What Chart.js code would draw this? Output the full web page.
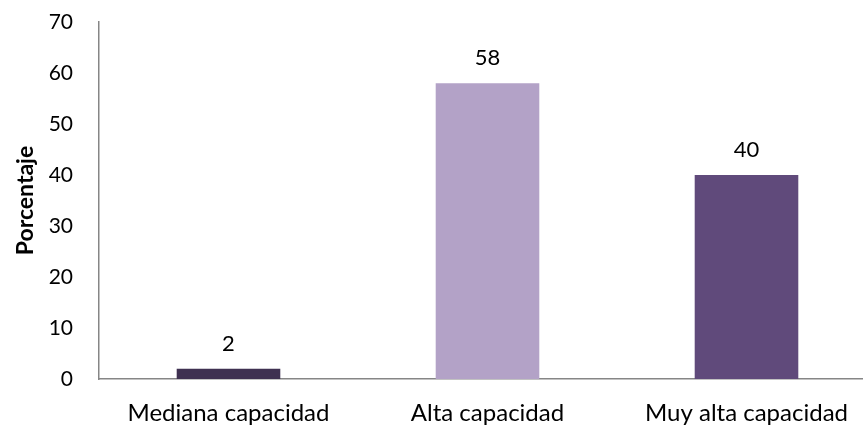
<!DOCTYPE html>
<html><head><meta charset="utf-8">
<script src="https://cdn.jsdelivr.net/npm/chart.js@4"></script>
<style>html,body{margin:0;padding:0;overflow:hidden;background:#fff}#wrap{width:876px;height:430px;position:relative}</style>
</head><body><div id="wrap"><canvas id="c"></canvas></div>
<script>
const categories = ["Mediana capacidad", "Alta capacidad", "Muy alta capacidad"];
const values = [2, 58, 40];
const barColors = ["#3f3151", "#b3a2c7", "#604a7b"];
const yTicks = [0, 10, 20, 30, 40, 50, 60, 70];
const FONT = "Lato, 'Open Sans', sans-serif";

const labelPlugin = {
  id: 'labels',
  afterDatasetsDraw(chart) {
    const ctx = chart.ctx;
    const meta = chart.getDatasetMeta(0);
    ctx.save();
    ctx.font = "22px " + FONT;
    ctx.fillStyle = "#000";
    ctx.textAlign = "center";
    ctx.textBaseline = "middle";
    meta.data.forEach((bar, i) => {
      ctx.fillText(String(values[i]), bar.x, bar.y - 25);
    });
    ctx.restore();
  }
};

new Chart(document.getElementById('c'), {
  type: 'bar',
  data: { labels: categories, datasets: [{ data: values, backgroundColor: barColors, barPercentage: 0.4, categoryPercentage: 1 }] },
  options: {
    responsive: true, maintainAspectRatio: false, animation: false,
    layout: { padding: { top: 22, right: 0, left: 0, bottom: 0 } },
    plugins: { legend: { display: false }, tooltip: { enabled: false } },
    scales: {
      y: {
        min: 0, max: 70,
        afterBuildTicks(s) { s.ticks = yTicks.map(v => ({ value: v })); },
        afterFit(s) { s.width = 99; s.paddingTop = 0; s.paddingBottom = 0; },
        grid: { display: false, drawTicks: false },
        border: { display: true, color: "#868686", width: 1.5 },
        ticks: { color: "#000", font: { family: FONT, size: 21 }, padding: 26 },
        title: { display: true, text: "Porcentaje", color: "#000", font: { family: FONT, size: 23, weight: 'bold' }, padding: { top: 12, bottom: 0 } }
      },
      x: {
        afterFit(s) { s.height = 51; s.paddingLeft = 0; s.paddingRight = 0; },
        grid: { display: false, drawTicks: false },
        border: { display: true, color: "#868686", width: 1.5 },
        ticks: { color: "#000", font: { family: FONT, size: 24 }, padding: 20 }
      }
    }
  },
  plugins: [labelPlugin]
});
</script></body></html>
